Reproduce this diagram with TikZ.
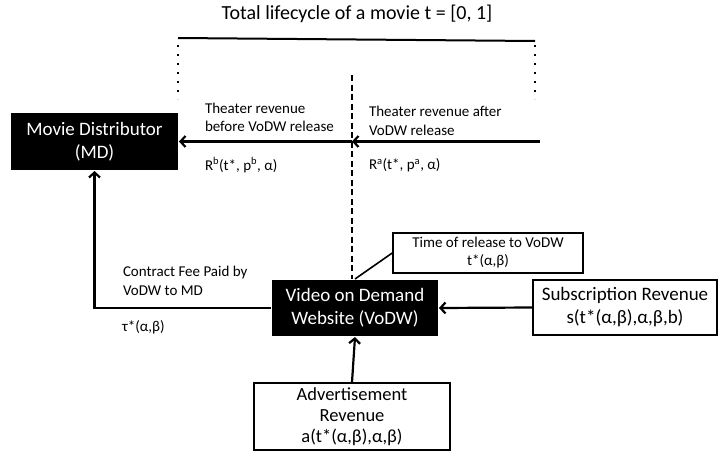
\documentclass[tikz,border=0pt]{standalone}
\usepackage{fontspec}
\setmainfont{Carlito}
\usetikzlibrary{arrows.meta}

\begin{document}
\begin{tikzpicture}[x=1pt,y=-1pt,line width=2pt]

                \tikzset{blackbox/.style = {shape=rectangle,fill=black,text=white,align=center,inner sep=0pt,font=\fontsize{19}{23}\selectfont}}
                \tikzset{whitebox/.style = {shape=rectangle,draw,fill=white,align=center,inner sep=0pt,line width=1.6pt}}
                \tikzset{note/.style = {anchor=west,align=left,inner sep=0pt,font=\fontsize{15}{18.5}\selectfont}}
                \tikzset{edge/.style = {-{Straight Barb[length=5pt,width=11pt]},line width=2.2pt}}
                \useasboundingbox[fill=white] (0,0) rectangle (720,463);

                % the lifecycle bracket
                \node (title) at (357,14) {\fontsize{20}{24}\selectfont Total lifecycle of a movie t = [0, 1]};
                \coordinate (lcl) at (178,38);
                \coordinate (lcr) at (535,41);
                \draw (lcl) -- (lcr);
                \draw[line width=2pt,dash pattern=on 2pt off 7pt] (lcl) ++(0,7) -- ++(0,54);
                \draw[line width=2pt,dash pattern=on 2pt off 7pt] (lcr) ++(0,4) -- ++(0,54);

                \node[blackbox,minimum width=167,minimum height=57] (md) at (94.5,141.5) {Movie Distributor\\(MD)};
                \node[blackbox,minimum width=166,minimum height=56] (vodw) at (355,308) {Video on Demand\\Website (VoDW)};
                \node[whitebox,minimum width=190,minimum height=40,font=\fontsize{15}{18}\selectfont] (release) at (488,253) {Time of release to VoDW\\t*(α,β)};
                \node[whitebox,minimum width=184,minimum height=55,font=\fontsize{19}{23}\selectfont] (sub) at (625,307.5) {Subscription Revenue\\s(t*(α,β),α,β,b)};
                \node[whitebox,minimum width=196,minimum height=67,font=\fontsize{18.5}{21}\selectfont] (adv) at (352,416.5) {Advertisement\\Revenue\\a(t*(α,β),α,β)};

                % release split
                \coordinate (split) at (352,75);
                \coordinate (tick) at (352,141.5);
                \coordinate (theaterend) at (540,141.5);
                \draw[dash pattern=on 6pt off 3.5pt] (split) -- (vodw.north -| split);

                \draw[edge] (theaterend) -- (tick);
                \draw[edge] (tick) -- (md.east);
                \draw[edge] (vodw.west) -| (md.south);
                \draw[line width=1.6pt] (release.west) -- (vodw.north);
                \draw[edge] (sub.west) -- (vodw.east);
                \draw[edge] (adv.north) -- (vodw.south);

                \node[note] (before) at (204,117.5) {Theater revenue\\before VoDW release};
                \node[note] (after) at (368,121) {Theater revenue after\\VoDW release};
                \node[note] (rb) at (204,165) {R\textsuperscript{b}(t*, p\textsuperscript{b}, α)};
                \node[note] (ra) at (368,165) {R\textsuperscript{a}(t*, p\textsuperscript{a}, α)};
                \node[note] (fee) at (122,281) {Contract Fee Paid by\\VoDW to MD};
                \node[note] (tau) at (121,327) {τ*(α,β)};
            \end{tikzpicture}
\end{document}
